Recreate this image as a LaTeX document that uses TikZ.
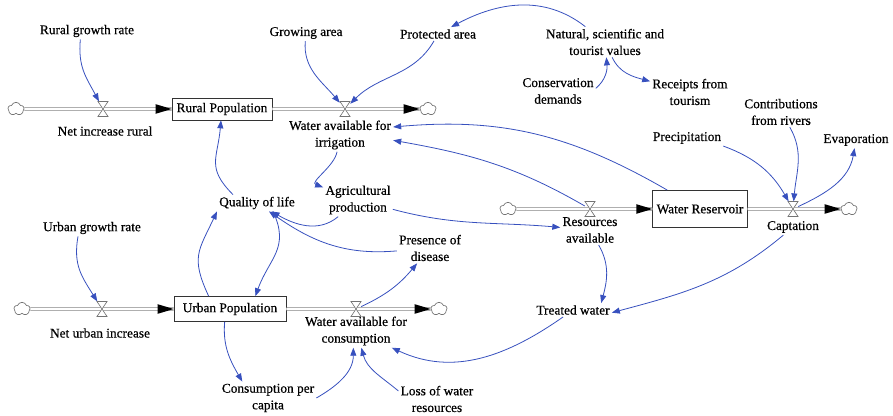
\documentclass[tikz,border=0pt]{standalone}
\usepackage{fontspec}
\setmainfont{Liberation Serif}[FakeBold=0.5]
\usetikzlibrary{arrows.meta,shapes.symbols}
\definecolor{conncol}{RGB}{55,80,190}
\begin{document}
\begin{tikzpicture}[x=0.75pt,y=0.75pt,
  every node/.style={font=\fontsize{10}{12.5}\selectfont},
  lbl/.style={align=center,inner sep=1.5pt},
  stock/.style={draw=black!80,line width=0.5pt,fill=white,inner sep=0pt,align=center},
  cloudy/.style={cloud,cloud puffs=5,cloud puff arc=140,aspect=1.2,draw=black!55,line width=0.5pt,minimum width=12pt,minimum height=10pt,inner sep=0pt},
  valve/.style={minimum width=7.5pt,minimum height=11pt,inner sep=0pt},
  pipe/.style={draw=black!55,double=white,double distance=1.6pt,line width=0.5pt},
  conn/.style={draw=conncol,line width=0.6pt,-{Triangle[length=6pt,width=4.5pt]}},
  tipfill/.style={fill=black},
  valvedraw/.style={draw=black!55,fill=white,line width=0.5pt}
]
\useasboundingbox (0,0) rectangle (893,415);

% stocks
\node[stock,minimum width=75pt,minimum height=16.5pt] (RP) at (222,306) {Rural Population};
\node[stock,minimum width=84pt,minimum height=18.75pt] (UP) at (230,106) {Urban Population};
\node[stock,minimum width=71pt,minimum height=28pt] (WR) at (700,206) {Water Reservoir};

% clouds
\node[cloudy] (cR) at (16,306) {};
\node[cloudy] (cI) at (428,306) {};
\node[cloudy] (cU) at (22,106) {};
\node[cloudy] (cC) at (439,106) {};
\node[cloudy] (cRes) at (508,206) {};
\node[cloudy] (cCap) at (849,206) {};

% valves
\node[valve] (vR) at (103,306) {};
\node[valve] (vI) at (345,306) {};
\node[valve] (vU) at (102,106) {};
\node[valve] (vC) at (356,106) {};
\node[valve] (vRes) at (590,206) {};
\node[valve] (vCap) at (793,206) {};

% labels
\node[lbl] (rgr) at (87,384) {Rural growth rate};
\node[lbl] (nir) at (105,284) {Net increase rural};
\node[lbl] (wi) at (340,280) {Water available for\\irrigation};
\node[lbl] (ga) at (306,382) {Growing area};
\node[lbl] (pa) at (438,381) {Protected area};
\node[lbl] (nat) at (605,373) {Natural, scientific and\\tourist values};
\node[lbl] (cons) at (558,324) {Conservation\\demands};
\node[lbl] (rec) at (690,323) {Receipts from\\tourism};
\node[lbl] (ctr) at (781,303) {Contributions\\from rivers};
\node[lbl] (pre) at (687,277) {Precipitation};
\node[lbl] (eva) at (856,275) {Evaporation};
\node[lbl] (res) at (590,185) {Resources\\available};
\node[lbl] (cap) at (793,188) {Captation};
\node[lbl] (tw) at (573,105) {Treated water};
\node[lbl] (ag) at (358,215) {Agricultural\\production};
\node[lbl] (ql) at (257,212) {Quality of life};
\node[lbl] (pd) at (430,167) {Presence of\\disease};
\node[lbl] (ugr) at (92,187) {Urban growth rate};
\node[lbl] (nui) at (100,82) {Net urban increase};
\node[lbl] (wc) at (356,84) {Water available for\\consumption};
\node[lbl] (cpc) at (268,17) {Consumption per\\capita};
\node[lbl] (loss) at (437,16) {Loss of water\\resources};

% pipes
\draw[pipe] (cR) -- (RP);
\draw[pipe] (RP) -- (cI);
\draw[pipe] (cU) -- (UP);
\draw[pipe] (UP) -- (cC);
\draw[pipe] (cRes) -- (WR);
\draw[pipe] (WR) -- (cCap);
\foreach \t in {RP,UP,WR,cI,cC,cCap}{
  \fill[tipfill] (\t.west) -- ++(-12pt,3.6pt) -- ++(0,-7.2pt) -- cycle;
}
\foreach \v in {vR,vI,vU,vC,vRes,vCap}{
  \draw[valvedraw] ([shift={(-3.75pt,5.6pt)}]\v.center) -- ([shift={(3.75pt,5.6pt)}]\v.center)
     -- ([shift={(-3.75pt,-5.6pt)}]\v.center) -- ([shift={(3.75pt,-5.6pt)}]\v.center) -- cycle;
}

% connectors
\draw[conn] ([xshift=-5pt]rgr.south) to[out=-95,in=118,looseness=1.1] (vR);
\draw[conn] (ga) to[out=-95,in=130] (vI);
\draw[conn] (pa) to[out=-120,in=45] (vI);
\draw[conn] (nat) to[out=142,in=28] (pa);
\draw[conn] ([yshift=2pt]cons.east) to[out=40,in=-85] (nat);
\draw[conn] (nat) to[out=-65,in=165] (rec);
\draw[conn] (pre.south east) to[out=-20,in=120] (vCap);
\draw[conn] (ctr) to[out=-60,in=85] (vCap);
\draw[conn] (vCap) to[out=25,in=-100] (eva);
\draw[conn] (WR) to[out=150,in=5] ([yshift=6pt]wi.east);
\draw[conn] (vRes) to[out=150,in=-10] ([yshift=-4pt]wi.east);
\draw[conn] (ag) to[out=-15,in=175] (res);
\draw[conn] (res) to[out=-60,in=75] ([xshift=-8pt]tw.north east);
\draw[conn] (cap) to[out=-140,in=15] ([yshift=-2pt]tw.east);
\draw[conn] (tw) to[out=-145,in=-25] (wc);
\draw[conn] (wi) to[out=-100,in=160] (ag);
\draw[conn] (ag) to[out=-140,in=-30] (ql);
\draw[conn] (pd) to[out=185,in=-35] (ql);
\draw[conn] (vC) to[out=25,in=-130] (pd);
\draw[conn] ([xshift=-16pt]UP.north) to[out=115,in=-115,looseness=1.3] (ql.south west);
\draw[conn] ([xshift=12pt]ql.south) to[out=-65,in=70,looseness=1.2] ([xshift=19pt]UP.north);
\draw[conn] ([xshift=-18pt]ql.north) to[out=135,in=-95,looseness=1.3] (RP);
\draw[conn] ([xshift=-10.5pt]ugr.south) to[out=-100,in=122,looseness=1.1] (vU);
\draw[conn] ([xshift=-4pt]UP.south) to[out=-95,in=120] ([xshift=17pt]cpc.north west);
\draw[conn] (cpc.east) to[out=30,in=-90] ([xshift=-2pt]wc.south);
\draw[conn] ([yshift=6pt]loss.west) to[out=140,in=-75] ([xshift=4pt]wc.south);
\end{tikzpicture}
\end{document}
